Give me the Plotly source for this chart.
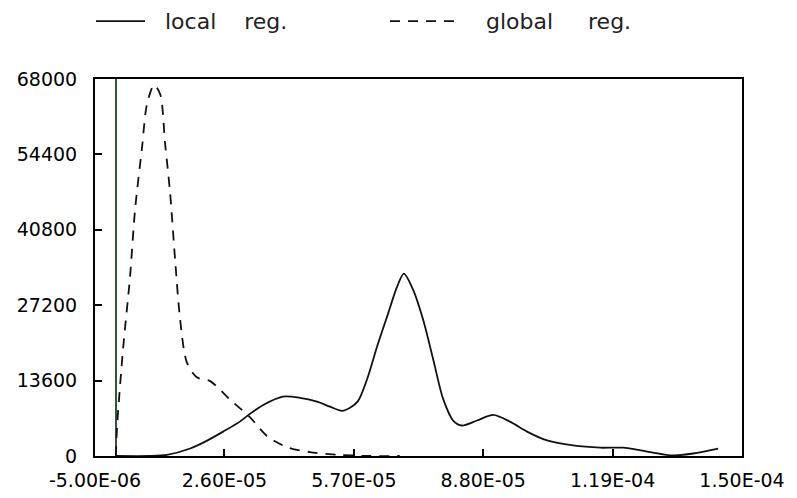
import plotly.graph_objects as go

# ---- data ----
local_x = [0.0, 8.2e-6, 12.25e-6, 17.8e-6, 21.4e-6, 25.7e-6, 29.7e-6, 32.1e-6, 35.3e-6,
           40.0e-6, 44.1e-6, 48.2e-6, 51.3e-6, 54.2e-6, 56.1e-6, 58.0e-6, 60.2e-6,
           62.6e-6, 65.0e-6, 67.4e-6, 69.0e-6, 71.2e-6, 73.6e-6, 76.0e-6, 78.4e-6,
           80.8e-6, 82.9e-6, 86.5e-6, 90.4e-6, 94.4e-6, 98.5e-6, 103.3e-6, 109.5e-6,
           116.0e-6, 121.5e-6, 127.3e-6, 133.5e-6, 138.3e-6, 144.3e-6]
local_y = [0, 0, 200, 1350, 2600, 4400, 6200, 7600, 9200,
           10700, 10500, 9800, 8900, 8150, 8700, 9900, 13900,
           19800, 25200, 30600, 32900, 30000, 24600, 17500, 10300,
           6400, 5500, 6400, 7400, 6200, 4400, 2800, 1900,
           1500, 1500, 800, 100, 450, 1350]

global_x = [0.0, 0.3e-6, 1.71e-6, 3.39e-6, 4.58e-6, 6.26e-6, 7.46e-6, 9.14e-6, 10.6e-6,
            11.8e-6, 13.0e-6, 14.2e-6, 15.4e-6, 17.0e-6, 19.4e-6, 22.6e-6, 27.3e-6,
            32.1e-6, 36.2e-6, 41.0e-6, 46.5e-6, 53.7e-6, 60.9e-6, 68.0e-6]
global_y = [0, 5400, 19200, 32300, 44300, 55600, 63500, 66900, 65300,
            56300, 47400, 35300, 24600, 16900, 14200, 13500, 10200,
            7000, 3600, 1600, 700, 200, 0, 0]

x_tickvals = [-5.0e-6, 2.6e-5, 5.7e-5, 8.8e-5, 1.19e-4, 1.50e-4]
x_ticktext = ["-5.00E-06", "2.60E-05", "5.70E-05", "8.80E-05", "1.19E-04", "1.50E-04"]
y_tickvals = [0, 13600, 27200, 40800, 54400, 68000]
y_ticktext = ["0", "13600", "27200", "40800", "54400", "68000"]

series_names = ["local reg.", "global reg."]

# ---- layout geometry (page pixels; the page body adds an 8px margin) ----
OFF = 8
WIN_W, WIN_H = 797, 498
W, H = WIN_W - OFF, WIN_H - OFF
PLOT_L, PLOT_R, PLOT_T, PLOT_B = 95, 742, 79, 456.5
L, T = PLOT_L - OFF, PLOT_T - OFF
R, B = (OFF + W) - PLOT_R, (OFF + H) - PLOT_B
PW, PH = PLOT_R - PLOT_L, PLOT_B - PLOT_T


def px_to_paper_x(px):
    return (px - PLOT_L) / PW


def px_to_paper_y(py):
    return (PLOT_B - py) / PH


line_dashes = ["solid", "10px,8px"]

# ---- figure ----
fig = go.Figure()
for xs, ys, name, dash in [(local_x, local_y, series_names[0], line_dashes[0]),
                           (global_x, global_y, series_names[1], line_dashes[1])]:
    fig.add_trace(go.Scatter(
        x=xs, y=ys, mode="lines", name=name, showlegend=False,
        line=dict(color="#111111", width=1.8, dash=dash, shape="spline", smoothing=0.8),
    ))

# custom legend (key lines + labels) above the plot
legend_y = px_to_paper_y(21)
legend_items = [
    (96, 145, 163, "local\u00a0\u00a0\u00a0\u00a0reg.", line_dashes[0]),
    (390, 460, 484, "global\u00a0\u00a0\u00a0\u00a0\u00a0reg.", line_dashes[1]),
]
for x0, x1, tx, label, dash in legend_items:
    fig.add_shape(type="line", xref="paper", yref="paper",
                  x0=px_to_paper_x(x0), x1=px_to_paper_x(x1), y0=legend_y, y1=legend_y,
                  line=dict(color="#111111", width=1.8, dash=dash))
    fig.add_annotation(xref="paper", yref="paper", x=px_to_paper_x(tx), y=legend_y,
                       xanchor="left", yanchor="middle", showarrow=False, text=label,
                       font=dict(family="DejaVu Sans", size=22, color="#222222"))

tick_font = dict(family="DejaVu Sans", size=19, color="black")

fig.update_layout(
    width=W, height=H,
    margin=dict(l=L, r=R, t=T, b=B, pad=0, autoexpand=False),
    paper_bgcolor="white", plot_bgcolor="white",
    showlegend=False,
    xaxis=dict(
        range=[-5.0e-6, 1.5e-4], tickmode="array",
        tickvals=x_tickvals, ticktext=x_ticktext,
        ticks="inside", ticklen=7, tickwidth=1.5, tickcolor="black",
        showline=True, linecolor="black", linewidth=2, mirror=True,
        showgrid=False, zeroline=True, zerolinecolor="#2f5a2f", zerolinewidth=1.5,
        tickfont=tick_font, ticklabelstandoff=6, automargin=False,
    ),
    yaxis=dict(
        range=[0, 68000], tickmode="array",
        tickvals=y_tickvals, ticktext=y_ticktext,
        ticks="inside", ticklen=7, tickwidth=1.5, tickcolor="black",
        showline=True, linecolor="black", linewidth=2, mirror=True,
        showgrid=False, zeroline=False,
        tickfont=tick_font, ticklabelstandoff=12, automargin=False,
    ),
)

fig.write_html("out.html")
